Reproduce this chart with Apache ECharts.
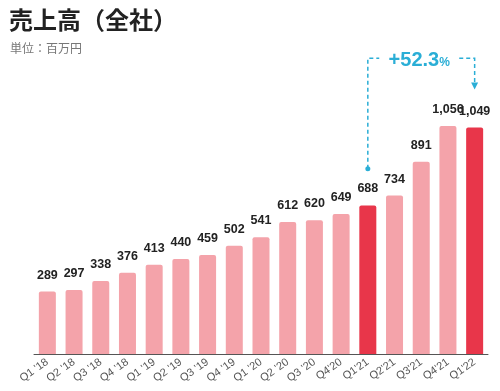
<!DOCTYPE html>
<html>
<head>
<meta charset="utf-8">
<script src="https://cdn.jsdelivr.net/npm/echarts@6/dist/echarts.min.js"></script>
<style>
html,body{margin:0;padding:0;background:#fff;}
#c{width:500px;height:391px;}
</style>
</head>
<body>
<div id="c"></div>
<script>
const categories = ["Q1 '18","Q2 '18","Q3 '18","Q4 '18","Q1 '19","Q2 '19","Q3 '19","Q4 '19","Q1 '20","Q2 '20","Q3 '20","Q4'20","Q1'21","Q2'21","Q3'21","Q4'21","Q1'22"];
const sales = [289,297,338,376,413,440,459,502,541,612,620,649,688,734,891,1056,1049];
const highlighted = ["Q1'21","Q1'22"];
const growthText = "+52.3";

const light = '#F4A3AA';
const strong = '#E8364A';
const cyan = '#2AAED6';

const chart = echarts.init(document.getElementById('c'), null, {renderer:'canvas'});
const fmt = v => v.toLocaleString('en-US');

chart.setOption({
  animation:false,
  title:[
    {text:'売上高（全社）', left:9, top:8, padding:0, textStyle:{fontSize:24, fontWeight:'bold', color:'#222', fontFamily:'Noto Sans CJK JP'}},
    {text:'単位：百万円', left:10, top:42, padding:0, textStyle:{fontSize:12, fontWeight:'normal', color:'#777', fontFamily:'Noto Sans CJK JP'}}
  ],
  grid:{left:34, right:12, top:95, bottom:37},
  xAxis:{
    type:'category', data:categories,
    axisLine:{lineStyle:{color:'#555', width:1}},
    axisTick:{show:false},
    axisLabel:{rotate:35, fontSize:11, color:'#555', margin:7, interval:0, fontFamily:'Arial, Liberation Sans'}
  },
  yAxis:{type:'value', min:0, max:1200, show:false, splitLine:{show:false}},
  series:[{
    type:'bar', barWidth:17,
    data:sales.map((v,i)=>({value:v, itemStyle:{color: highlighted.includes(categories[i]) ? strong : light, borderRadius:[2,2,0,0]}})),
    label:{show:true, position:'top', distance:10, fontSize:12.5, fontWeight:'bold', color:'#222', fontFamily:'Arial, Liberation Sans', formatter:p=>fmt(p.value)}
  }]
});

const i0 = categories.indexOf(highlighted[0]);
const i1 = categories.indexOf(highlighted[1]);
const x0 = chart.convertToPixel({xAxisIndex:0}, categories[i0]);
const x1 = chart.convertToPixel({xAxisIndex:0}, categories[i1]);
const yDot = chart.convertToPixel({yAxisIndex:0}, 858);
const yTop = chart.convertToPixel({yAxisIndex:0}, 1370);
const yArrow = chart.convertToPixel({yAxisIndex:0}, 1225);
const dash = {stroke:cyan, lineWidth:1.5, lineDash:[4,3]};
const textCx = (x0+x1)/2;
chart.setOption({
  graphic:[
    {type:'polyline', shape:{points:[[x0,yDot],[x0,yTop],[textCx-42,yTop]]}, style:dash, silent:true},
    {type:'polyline', shape:{points:[[textCx+38,yTop],[x1,yTop],[x1,yArrow-6]]}, style:dash, silent:true},
    {type:'polygon', shape:{points:[[x1-3.5,yArrow-7],[x1+3.5,yArrow-7],[x1,yArrow]]}, style:{fill:cyan}, silent:true},
    {type:'circle', shape:{cx:x0, cy:yDot, r:2.5}, style:{fill:cyan}, silent:true},
    {type:'text', x:textCx-2, y:yTop+2, style:{
      text:'{a|'+growthText+'}{b|%}', align:'center', verticalAlign:'middle',
      rich:{a:{fontSize:20, fontWeight:'bold', fill:cyan, fontFamily:'Arial, Liberation Sans'}, b:{fontSize:12, fontWeight:'bold', fill:cyan, fontFamily:'Arial, Liberation Sans', padding:[5,0,0,0]}}
    }, silent:true}
  ]
});
</script>
</body>
</html>
